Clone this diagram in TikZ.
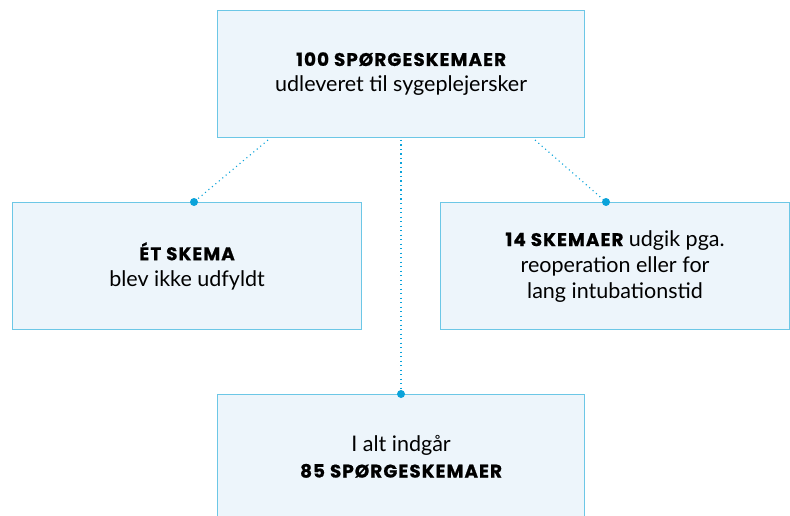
\documentclass[tikz,border=0pt]{standalone}
\usepackage{fontspec}
\setmainfont{Lato}
\newfontfamily\headfont[LetterSpace=6,BoldFeatures={FakeBold=0.8}]{Poppins}
\definecolor{boxfill}{HTML}{EDF5FB}
\definecolor{boxline}{HTML}{6CC7E6}
\definecolor{dotblue}{HTML}{0BA3DA}
\begin{document}
\begin{tikzpicture}[x=1pt,y=-1pt,
  box/.style={draw=boxline,line width=1.2pt,fill=boxfill,anchor=north west,inner sep=0pt,align=center,font=\fontsize{21.5}{26}\selectfont,text=black},
  conn/.style={draw=dotblue,line width=1.1pt,dash pattern=on 1.1pt off 3.4pt},
  enddot/.style={circle,fill=dotblue,inner sep=0pt,minimum size=8pt}]
\useasboundingbox (0,0) rectangle (790,516);
\clip (0,0) rectangle (790,516);
\newcommand\hdtext[1]{{\headfont\bfseries\fontsize{18.3}{26}\selectfont #1}}
\node[box,minimum width=367pt,minimum height=127pt] (top) at (217,10) {\hdtext{100 SPØRGESKEMAER}\\udleveret til sygeplejersker};
\node[box,minimum width=349pt,minimum height=127pt] (left) at (12,202) {\hdtext{ÉT SKEMA}\\blev ikke udfyldt};
\node[box,minimum width=349pt,minimum height=127pt] (right) at (440,202) {\hdtext{14 SKEMAER} udgik pga.\\reoperation eller for\\lang intubationstid};
\node[box,minimum width=367pt,minimum height=124pt] (bot) at (217,394) {I alt indgår\\\hdtext{85 SPØRGESKEMAER}};
\coordinate (tl) at (268,140);
\coordinate (tm) at (401,140);
\coordinate (tr) at (535,140);
\node[enddot] (dl) at (194,202) {};
\node[enddot] (dr) at (606,202) {};
\node[enddot] (dm) at (401,394) {};
\draw[conn] (tl) -- (dl.center);
\draw[conn] (tr) -- (dr.center);
\draw[conn] (tm) -- (dm.center);
\end{tikzpicture}
\end{document}
